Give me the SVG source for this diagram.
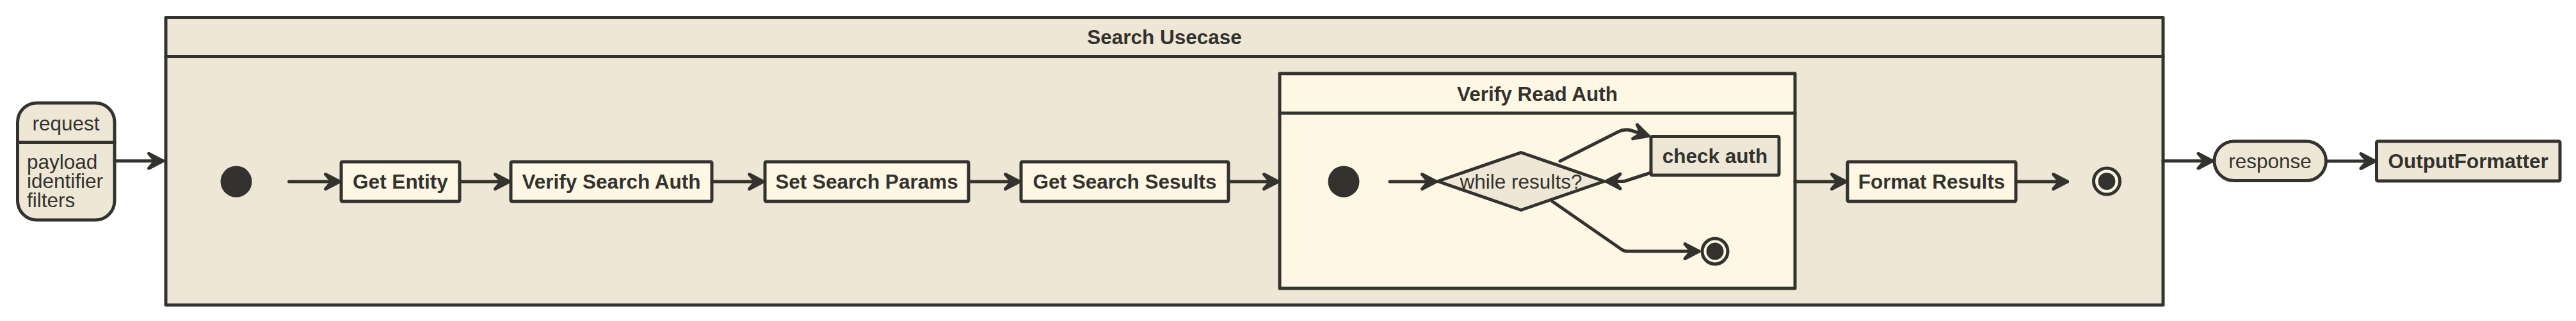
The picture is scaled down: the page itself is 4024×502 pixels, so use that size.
<svg xmlns="http://www.w3.org/2000/svg" width="4024" height="502" viewBox="0 0 4024 502">
<style>
.ln{fill:none;stroke:#33322e;stroke-width:5;stroke-linejoin:round;stroke-linecap:round}
.bx{stroke:#33322e;stroke-width:5;stroke-linejoin:round}
.outer{fill:#eee7d5}
.inner{fill:#fdf7e4}
.t{font-family:"Liberation Sans",Arial,Helvetica,sans-serif;font-size:31.5px;fill:#33322e}
.b{font-weight:bold}
.c{text-anchor:middle}
.dot{fill:#33322e}
</style>
<defs>
<marker id="arr" markerUnits="userSpaceOnUse" markerWidth="40" markerHeight="40" viewBox="-30 -20 40 40" refX="0" refY="0" orient="auto" overflow="visible">
<path d="M-22,-11.5 L0,0 L-22,11.5 L-12,0 Z" fill="#33322e" stroke="#33322e" stroke-width="5" stroke-linejoin="round" stroke-linecap="round"/>
</marker>
</defs>

<g id="search-usecase">
<rect class="bx outer" x="259" y="27.5" width="3120" height="449.5"/>
<line class="ln" x1="259" y1="88.5" x2="3379" y2="88.5" stroke-linecap="butt"/>
<text class="t b c" x="1819" y="69">Search Usecase</text>
</g>

<g id="request">
<rect class="bx outer" x="27.5" y="161" width="151.5" height="183" rx="30" ry="30"/>
<line class="ln" x1="27.5" y1="222.5" x2="179" y2="222.5" stroke-linecap="butt"/>
<text class="t c" x="103" y="204">request</text>
<text class="t" x="42" y="264">payload</text>
<text class="t" x="42" y="294">identifier</text>
<text class="t" x="42" y="324">filters</text>
</g>

<g id="start-outer">
<circle class="dot" cx="369" cy="284" r="24.5"/>
</g>

<g id="get-entity">
<rect class="bx inner" x="533" y="253" width="185" height="62" rx="2"/>
<text class="t b c" x="625.5" y="295">Get Entity</text>
</g>

<g id="verify-search-auth">
<rect class="bx inner" x="798" y="253" width="314" height="62" rx="2"/>
<text class="t b c" x="955" y="295">Verify Search Auth</text>
</g>

<g id="set-search-params">
<rect class="bx inner" x="1195" y="253" width="318" height="62" rx="2"/>
<text class="t b c" x="1354" y="295">Set Search Params</text>
</g>

<g id="get-search-results">
<rect class="bx inner" x="1595" y="253" width="324" height="62" rx="2"/>
<text class="t b c" x="1757" y="295">Get Search Sesults</text>
</g>

<g id="verify-read-auth">
<rect class="bx inner" x="1999" y="115" width="805" height="336"/>
<line class="ln" x1="1999" y1="177" x2="2804" y2="177" stroke-linecap="butt"/>
<text class="t b c" x="2401.5" y="157.5">Verify Read Auth</text>
</g>

<g id="start-inner">
<circle class="dot" cx="2099" cy="284" r="24.5"/>
</g>

<g id="while-results">
<polygon class="bx outer" points="2246,283.5 2376,238.5 2506,283.5 2376,328.5"/>
<text class="t c" x="2376" y="295">while results?</text>
</g>

<g id="check-auth">
<rect class="bx outer" x="2579" y="213.5" width="200" height="60.5" rx="2"/>
<text class="t b c" x="2679" y="255">check auth</text>
</g>

<g id="end-inner">
<circle cx="2679" cy="393" r="20" fill="#fdf7e4" stroke="#33322e" stroke-width="5"/>
<circle class="dot" cx="2679" cy="393" r="13.5"/>
</g>

<g id="format-results">
<rect class="bx inner" x="2886" y="253" width="263" height="62" rx="2"/>
<text class="t b c" x="3017.5" y="295">Format Results</text>
</g>

<g id="end-outer">
<circle cx="3291" cy="283.5" r="20.5" fill="#fdf7e4" stroke="#33322e" stroke-width="5"/>
<circle class="dot" cx="3291" cy="283.5" r="13.5"/>
</g>

<g id="response">
<rect class="bx outer" x="3459" y="221" width="174.5" height="61.5" rx="30.75" ry="30.75"/>
<text class="t c" x="3546" y="263">response</text>
</g>

<g id="output-formatter">
<rect class="bx outer" x="3712.5" y="221" width="286.5" height="62" rx="2"/>
<text class="t b c" x="3855.7" y="263">OutputFormatter</text>
</g>

<g id="connectors">
<path class="ln" marker-end="url(#arr)" d="M179,251.7 L254.5,251.7"/>
<path class="ln" marker-end="url(#arr)" d="M451.5,284 L530.5,284"/>
<path class="ln" marker-end="url(#arr)" d="M718,284 L795.5,284"/>
<path class="ln" marker-end="url(#arr)" d="M1112,284 L1192.5,284"/>
<path class="ln" marker-end="url(#arr)" d="M1513,284 L1592.5,284"/>
<path class="ln" marker-end="url(#arr)" d="M1919,284 L1996.5,284"/>
<path class="ln" marker-end="url(#arr)" d="M2171,284 L2243.5,284"/>
<path class="ln" marker-end="url(#arr)" d="M2437,252 L2528,206 Q2538,201 2548,204 L2575,212.5"/>
<path class="ln" marker-end="url(#arr)" d="M2579,270 L2545,281 Q2540,283.5 2535,283.5 L2509,283.5"/>
<path class="ln" marker-end="url(#arr)" d="M2425,315 L2533,390 Q2537,393 2543,393 L2654,393"/>
<path class="ln" marker-end="url(#arr)" d="M2804,284 L2883.5,284"/>
<path class="ln" marker-end="url(#arr)" d="M3149,284 L3229.5,284"/>
<path class="ln" marker-end="url(#arr)" d="M3379,251.7 L3456,251.7"/>
<path class="ln" marker-end="url(#arr)" d="M3633.5,252 L3710,252"/>
</g>
</svg>
